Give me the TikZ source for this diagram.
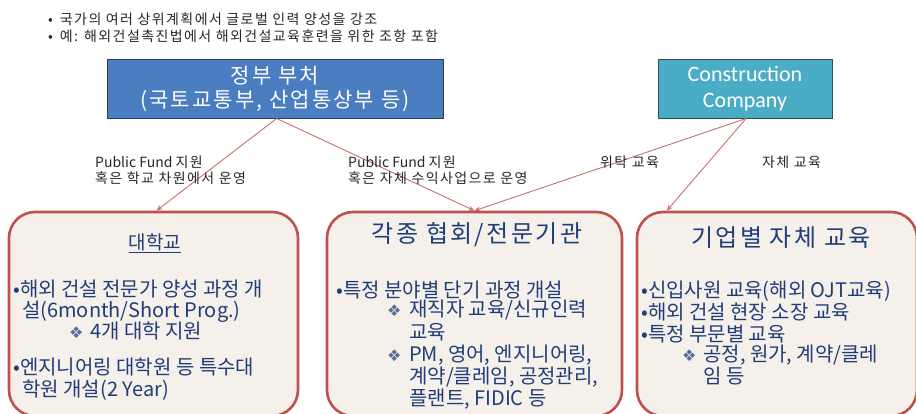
\documentclass[tikz,border=0pt]{standalone}
\usepackage{fontspec}
\setmainfont{Noto Sans CJK KR}
\newfontfamily\krfont{Noto Sans CJK KR}
\newfontfamily\krw[LetterSpace=10]{Noto Sans CJK KR}
\newfontfamily\dvfont{DejaVu Sans}
\newfontfamily\carfont{Carlito}
\usetikzlibrary{arrows.meta,calc}
\definecolor{txt}{HTML}{1F3D7A}
\definecolor{boxfill}{HTML}{F5F1EA}
\definecolor{boxline}{HTML}{C0504D}
\definecolor{conn}{HTML}{C8706E}
\definecolor{govblue}{HTML}{4A7EC1}
\definecolor{govline}{HTML}{2B3F5C}
\definecolor{teal}{HTML}{4BACC6}
\definecolor{tealline}{HTML}{2F4F5A}
\tikzset{
  box/.style={draw=boxline, line width=2.6pt, fill=boxfill, rounded corners=26pt, inner sep=0pt},
  topbox/.style={inner sep=0pt, line width=1pt, align=center, text=white},
  t/.style={anchor=base west, inner sep=0pt, text=txt, font=\krfont\fontsize{20}{22}\selectfont},
  lab/.style={anchor=base west, inner sep=0pt, text=black!85, font=\krw\fontsize{14}{15}\selectfont},
  conn/.style={draw=conn, line width=0.9pt, -{Stealth[length=6pt,width=5pt]}},
  dia/.style={anchor=base west, inner sep=0pt, text=txt!75, font=\dvfont\fontsize{16}{18}\selectfont},
  title/.style={anchor=base, inner sep=0pt, text=txt, font=\krw\fontsize{24}{28}\selectfont},
}
\begin{document}
\begin{tikzpicture}[x=1pt,y=-1pt]
\useasboundingbox (0,0) rectangle (916,413);
% top bullets
\node[lab] (b1) at (48,24) {•\hspace{7pt}국가의 여러 상위계획에서 글로벌 인력 양성을 강조};
\node[lab] (b2) at (48,41) {•\hspace{7pt}예: 해외건설촉진법에서 해외건설교육훈련을 위한 조항 포함};
% top boxes
\node[topbox, draw=govline, fill=govblue, minimum width=336, minimum height=59, font=\krw\fontsize{21}{24}\selectfont] (gov) at (275,88.5) {정부 부처\\(국토교통부, 산업통상부 등)};
\node[topbox, draw=tealline, fill=teal, minimum width=174, minimum height=59, font=\carfont\fontsize{22}{26}\selectfont] (cc) at (745,88.5) {Construction\\Company};
% bottom boxes
\node[box, minimum width=289, minimum height=204] (univ) at (153.5,314) {};
\node[box, minimum width=295, minimum height=204] (assoc) at (474.5,314) {};
\node[box, minimum width=280, minimum height=204] (corp) at (777,314) {};
% connectors
\coordinate (govout) at ($(gov.south west)!0.505!(gov.south east)$);
\coordinate (ccout) at ($(cc.south west)!0.506!(cc.south east)$);
\draw[conn] (govout) -- ($(univ.north west)!0.51!(univ.north east)$);
\draw[conn] (govout) -- ($(assoc.north west)!0.5!(assoc.north east)$);
\draw[conn] (ccout) -- ($(assoc.north west)!0.5!(assoc.north east)$);
\draw[conn] (ccout) -- ($(corp.north west)!0.11!(corp.north east)$);
% labels
\node[lab] (l1a) at (95,167) {\krfont Public Fund \krw 지원};
\node[lab] (l1b) at (95,183) {혹은 학교 차원에서 운영};
\node[lab] (l2a) at (348,167) {\krfont Public Fund \krw 지원};
\node[lab] (l2b) at (348,183) {혹은 자체 수익사업으로 운영};
\node[lab] (l3) at (600,167) {위탁 교육};
\node[lab] (l4) at (762,167) {자체 교육};
% univ content
\node[anchor=base, inner sep=0pt, text=txt, font=\krfont\fontsize{19}{22}\selectfont] (ut) at (155,249) {\underline{대학교}};
\node[t] (u1) at (13,296) {•해외 건설 전문가 양성 과정 개};
\node[t] (u2) at (22,317) {설(6month/Short Prog.)};
\node[dia] (u3d) at (69,338) {❖};
\node[t] (u3) at (90,338) {4개 대학 지원};
\node[t] (u4) at (13,374) {•엔지니어링 대학원 등 특수대};
\node[t] (u5) at (22,396) {학원 개설(2 Year)};
% assoc content
\node[title] (at) at (477,242) {각종 협회/전문기관};
\node[t] (a1) at (336,297) {•특정 분야별 단기 과정 개설};
\node[dia] (a2d) at (387,316) {❖};
\node[t] (a2) at (409,316) {재직자 교육/신규인력};
\node[t] (a3) at (409,339) {교육};
\node[dia] (a4d) at (387,361) {❖};
\node[t] (a4) at (409,361) {PM, 영어, 엔지니어링,};
\node[t] (a5) at (409,383) {계약/클레임, 공정관리,};
\node[t] (a6) at (409,405) {플랜트, FIDIC 등};
% corp content
\node[title] (ct) at (781,246) {기업별 자체 교육};
\node[t] (c1) at (641,297) {•신입사원 교육(해외 OJT교육)};
\node[t] (c2) at (641,319) {•해외 건설 현장 소장 교육};
\node[t] (c3) at (641,341) {•특정 부문별 교육};
\node[dia] (c4d) at (682,361) {❖};
\node[t] (c4) at (703,361) {공정, 원가, 계약/클레};
\node[t] (c5) at (703,383) {임 등};
\end{tikzpicture}
\end{document}
